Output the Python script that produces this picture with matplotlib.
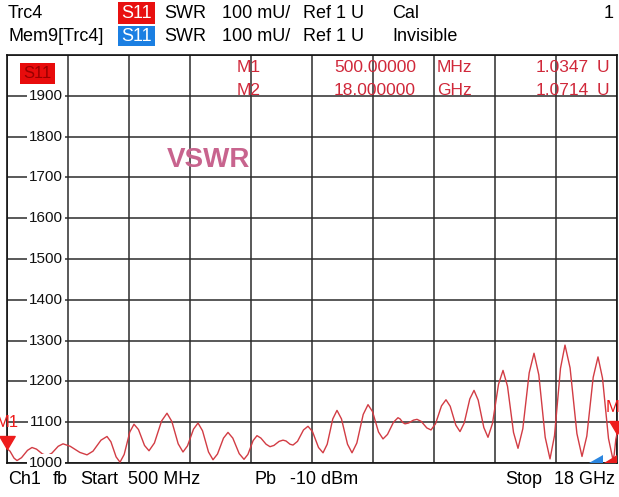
import numpy as np
import matplotlib
matplotlib.use("Agg")
import matplotlib.pyplot as plt
from matplotlib.patches import Rectangle, Polygon

plt.rcParams['font.family'] = ['Liberation Sans', 'DejaVu Sans']

# ---------------- data ----------------
freq_ghz = [
    0.500,
    0.586, 0.701, 0.787,
    0.916, 1.088, 1.217,
    1.346, 1.519, 1.648,
    1.786, 1.969, 2.107,
    2.313, 2.589, 2.795,
    2.967, 3.197, 3.369,
    3.481, 3.630, 3.742,
    3.862, 4.023, 4.143,
    4.272, 4.445, 4.574,
    4.729, 4.935, 5.090,
    5.228, 5.411, 5.549,
    5.678, 5.851, 5.980,
    6.109, 6.281, 6.410,
    6.539, 6.711, 6.840,
    6.978, 7.161, 7.299,
    7.411, 7.561, 7.672,
    7.784, 7.933, 8.045,
    8.157, 8.306, 8.418,
    8.504, 8.619, 8.705,
    8.834, 9.006, 9.135,
    9.264, 9.437, 9.566,
    9.686, 9.846, 9.967,
    10.096, 10.269, 10.398,
    10.536, 10.719, 10.857,
    10.986, 11.158, 11.287,
    11.416, 11.588, 11.717,
    11.777, 11.858, 11.918,
    12.021, 12.159, 12.262,
    12.383, 12.543, 12.664,
    12.793, 12.965, 13.094,
    13.215, 13.375, 13.496,
    13.617, 13.777, 13.898,
    14.018, 14.179, 14.299,
    14.428, 14.601, 14.730,
    14.859, 15.031, 15.160,
    15.298, 15.481, 15.619,
    15.757, 15.940, 16.078,
    16.207, 16.379, 16.508,
    16.654, 16.850, 16.996,
    17.134, 17.317, 17.455,
    17.584, 17.756, 17.885,
    17.920, 17.966, 18.000,
]
swr_mu = [
    1035,
    1029, 1012, 1006,
    1013, 1031, 1038,
    1034, 1022, 1018,
    1024, 1041, 1047,
    1041, 1026, 1020,
    1029, 1056, 1065,
    1052, 1015, 1002,
    1021, 1076, 1095,
    1082, 1043, 1030,
    1049, 1103, 1122,
    1102, 1047, 1027,
    1042, 1083, 1098,
    1079, 1027, 1008,
    1022, 1061, 1075,
    1061, 1023, 1009,
    1021, 1055, 1067,
    1061, 1046, 1040,
    1043, 1053, 1056,
    1054, 1046, 1044,
    1053, 1081, 1090,
    1077, 1038, 1025,
    1046, 1108, 1129,
    1108, 1046, 1025,
    1049, 1119, 1143,
    1126, 1076, 1059,
    1070, 1100, 1111,
    1108, 1099, 1096,
    1098, 1105, 1107,
    1102, 1086, 1081,
    1096, 1140, 1155,
    1139, 1093, 1077,
    1098, 1157, 1178,
    1154, 1087, 1063,
    1097, 1193, 1227,
    1188, 1075, 1036,
    1084, 1221, 1269,
    1216, 1063, 1010,
    1067, 1232, 1289,
    1233, 1072, 1016,
    1066, 1210, 1260,
    1208, 1060, 1008,
    1021, 1058, 1071,
]

marker_names = ["M1", "M2"]
marker_freq_ghz = [0.5, 18.0]
marker_swr_mu = [1034.7, 1071.4]
marker_freq_text = ["500.00000", "18.000000"]
marker_unit_text = ["MHz", "GHz"]
marker_val_text = ["1.0347", "1.0714"]

y_tick_values = [1000, 1100, 1200, 1300, 1400, 1500, 1600, 1700, 1800, 1900]
y_tick_labels = ["1000", "1100", "1200", "1300", "1400", "1500", "1600", "1700", "1800", "1900"]

f_start, f_stop = 0.5, 18.0
y_min, y_max = 1000, 2000
n_div = 10

# ---------------- figure ----------------
W, H = 619, 497
fig = plt.figure(figsize=(W / 100, H / 100), dpi=100)
fig.patch.set_facecolor('white')


def fx(x):
    return x / W


def fy(y):
    return 1 - y / H


ax = fig.add_axes([fx(7), fy(463), 610 / W, 408 / H])
ax.set_xlim(f_start, f_stop)
ax.set_ylim(y_min, y_max)
ax.set_xticks(np.linspace(f_start, f_stop, n_div + 1))
ax.set_yticks(np.linspace(y_min, y_max, n_div + 1))
ax.tick_params(length=0, labelbottom=False, labelleft=False)
ax.grid(True, color='#2b2b2b', lw=1.1)
ax.set_axisbelow(True)
for s in ax.spines.values():
    s.set_color('#111111')
    s.set_linewidth(1.2)

trace_col = '#d23c44'
ax.plot(freq_ghz, swr_mu, color=trace_col, lw=1.0, zorder=4)

# y labels inside the grid
ytr = ax.get_yaxis_transform()
for v, lab in zip(y_tick_values, y_tick_labels):
    ax.text(0.0918, v, lab, transform=ytr, ha='right', va='center',
            fontsize=11, color='#111111', zorder=6,
            bbox=dict(facecolor='white', edgecolor='none', pad=1.6))

# marker triangles (tip at the data point)
tri = [(0, 0), (-0.65, 1.1), (0.65, 1.1), (0, 0)]
mk_col = '#ee1c1c'
for name, f, v in zip(marker_names, marker_freq_ghz, marker_swr_mu):
    ax.plot([f], [v], marker=tri, ms=18.7, color=mk_col, mec=mk_col,
            ls='none', clip_on=False, zorder=7)
    ax.annotate(name, (f, v), xytext=(0, 19), textcoords='offset points',
                ha='center', va='center', fontsize=12, color=mk_col,
                annotation_clip=False, zorder=7)

# S11 badge inside plot
fig.patches.append(Rectangle((fx(20), fy(84)), 35 / W, 21 / H, transform=fig.transFigure,
                             facecolor='#e80c0c', edgecolor='none', zorder=8))
fig.text(fx(37.5), fy(73.5), "S11", ha='center', va='center', fontsize=12,
         color='#9a0000', zorder=9)

# marker readouts
mtxt_col = '#d0283a'
row_y = [67.5, 90.5]
for i in range(2):
    y = row_y[i]
    fig.text(fx(237), fy(y), marker_names[i], ha='left', va='center', fontsize=12.5,
             color=mtxt_col, zorder=9)
    fig.text(fx(416), fy(y), marker_freq_text[i], ha='right', va='center', fontsize=12.5,
             color=mtxt_col, zorder=9)
    fig.text(fx(437), fy(y), marker_unit_text[i], ha='left', va='center', fontsize=12.5,
             color=mtxt_col, zorder=9)
    fig.text(fx(589), fy(y), marker_val_text[i], ha='right', va='center', fontsize=12.5,
             color=mtxt_col, zorder=9)
    fig.text(fx(597), fy(y), "U", ha='left', va='center', fontsize=12.5,
             color=mtxt_col, zorder=9)

# VSWR label
fig.text(fx(167), fy(160), "VSWR", ha='left', va='center', fontsize=20,
         fontweight='bold', color='#c8648e', zorder=9)

# bottom-right limit wedges
fig.patches.append(Polygon([(fx(589), fy(463)), (fx(603), fy(463)), (fx(603), fy(455))],
                           closed=True, transform=fig.transFigure,
                           facecolor='#2b86e0', edgecolor='none', zorder=8))
fig.patches.append(Polygon([(fx(604), fy(463)), (fx(617), fy(463)), (fx(617), fy(455))],
                           closed=True, transform=fig.transFigure,
                           facecolor='#e81c1c', edgecolor='none', zorder=8))

# ---------------- header ----------------
hfs = 13
r1, r2 = 14, 36.5
fig.text(fx(8), fy(r1), "Trc4", ha='left', va='center', fontsize=hfs)
fig.text(fx(8), fy(r2), "Mem9[Trc4]", ha='left', va='center', fontsize=hfs)
fig.patches.append(Rectangle((fx(118), fy(24)), 37 / W, 22 / H, transform=fig.transFigure,
                             facecolor='#e81010', edgecolor='none'))
fig.patches.append(Rectangle((fx(118), fy(46)), 37 / W, 20 / H, transform=fig.transFigure,
                             facecolor='#1b7fe2', edgecolor='none'))
fig.text(fx(136.5), fy(r1), "S11", ha='center', va='center', fontsize=hfs, color='white')
fig.text(fx(136.5), fy(r2), "S11", ha='center', va='center', fontsize=hfs, color='white')
for y in (r1, r2):
    fig.text(fx(164), fy(y), "SWR", ha='left', va='center', fontsize=hfs)
    fig.text(fx(222), fy(y), "100 mU/", ha='left', va='center', fontsize=hfs)
    fig.text(fx(303), fy(y), "Ref 1 U", ha='left', va='center', fontsize=hfs)
fig.text(fx(392), fy(r1), "Cal", ha='left', va='center', fontsize=hfs)
fig.text(fx(392), fy(r2), "Invisible", ha='left', va='center', fontsize=hfs)
fig.text(fx(614), fy(r1), "1", ha='right', va='center', fontsize=hfs)

# ---------------- footer ----------------
fy_f = 480
fig.text(fx(8), fy(fy_f), "Ch1", ha='left', va='center', fontsize=hfs)
fig.text(fx(53), fy(fy_f), "fb", ha='left', va='center', fontsize=hfs)
fig.text(fx(80), fy(fy_f), "Start", ha='left', va='center', fontsize=hfs)
fig.text(fx(128), fy(fy_f), "500 MHz", ha='left', va='center', fontsize=hfs)
fig.text(fx(255), fy(fy_f), "Pb", ha='left', va='center', fontsize=hfs)
fig.text(fx(290), fy(fy_f), "-10 dBm", ha='left', va='center', fontsize=hfs)
fig.text(fx(505), fy(fy_f), "Stop", ha='left', va='center', fontsize=hfs)
fig.text(fx(615), fy(fy_f), "18 GHz", ha='right', va='center', fontsize=hfs)

fig.savefig("out.png", dpi=100, facecolor='white')
